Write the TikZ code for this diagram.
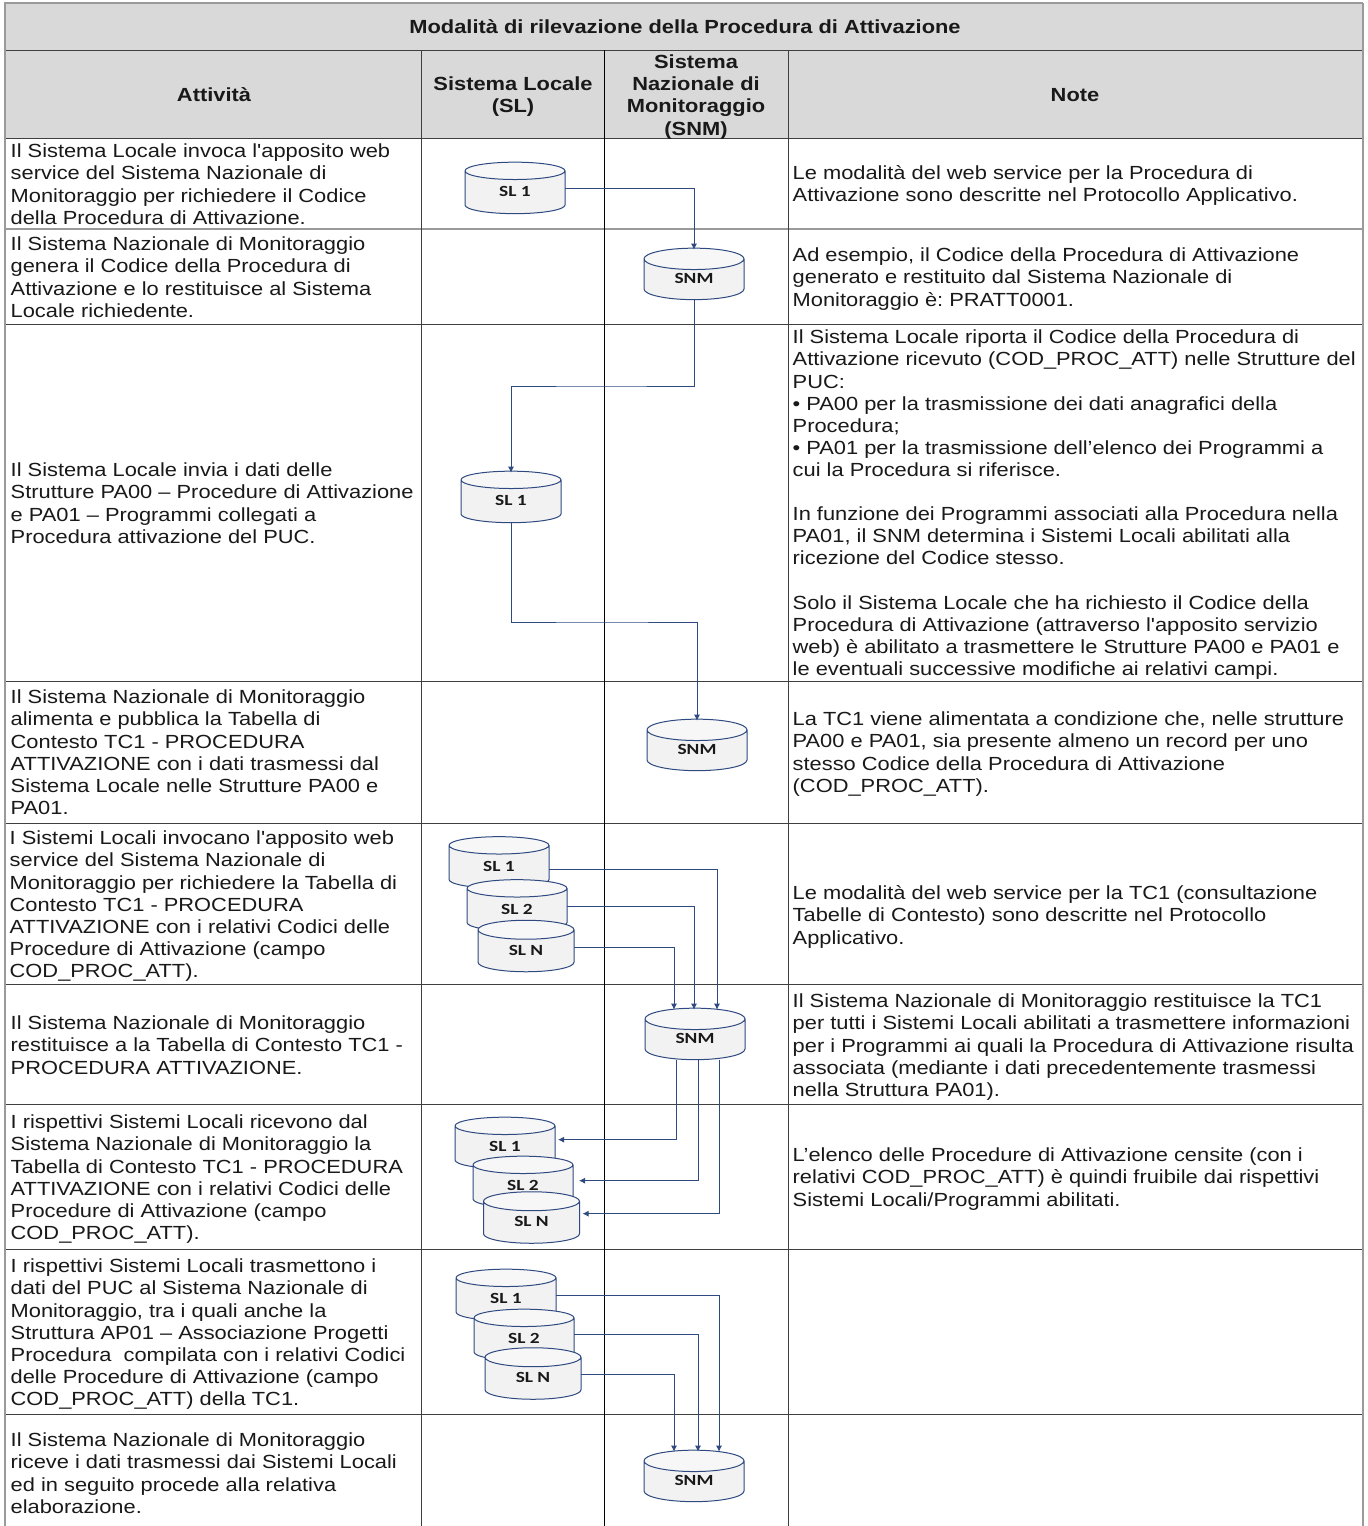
\documentclass[tikz,border=0pt]{standalone}
\usepackage{fontspec}
\usetikzlibrary{shapes.geometric,arrows.meta}
\newfontfamily\bodyf[FakeStretch=1.15]{Liberation Sans}
\newfontfamily\cylf[FakeStretch=1.25]{Carlito}
\definecolor{hdr}{HTML}{D9D9D9}
\definecolor{navy}{HTML}{2F4A80}
\definecolor{rule1}{HTML}{3F3F3F}
\definecolor{rule2}{HTML}{9A9A9A}
\tikzset{
  txt/.style={anchor=north west,inner sep=0pt,align=left,text=black!90,font=\frenchspacing\bodyf\fontsize{19}{22.1}\selectfont},
  head/.style={inner sep=0pt,align=center,text=black!90,font=\bodyf\bfseries\fontsize{19}{22.1}\selectfont},
  cyl/.style={cylinder,shape border rotate=90,aspect=0.55,draw=navy,line width=1pt,outer sep=0pt,
    cylinder uses custom fill,cylinder body fill=cylfill,cylinder end fill=cylend,
    minimum width=100pt,minimum height=51.5pt,inner sep=0pt,font=\cylf\bfseries\fontsize{15.5}{17}\selectfont,text=black!90},
  cyln/.style={cyl,minimum width=96pt},
  conn/.style={draw=navy,line width=.9pt,-{Latex[length=6pt,width=6pt]}},
  into/.style={conn,shorten >=-1.5pt},
  grid/.style={draw=rule1,line width=1pt},
  gridb/.style={draw=black,line width=1pt},
  outer/.style={draw=rule2,line width=2.6pt}
}
\definecolor{cylfill}{HTML}{F2F2F2}
\definecolor{cylend}{HTML}{F7F7F7}
\newcommand{\tx}[4]{\node[txt] (#1) at (#2-0.5,#3-8.8) {\strut #4};}
\newcommand{\cl}[1]{\raisebox{2pt}{#1}}
\begin{document}
\begin{tikzpicture}[x=1pt,y=-1pt]
\useasboundingbox (0,0) rectangle (1368,1526);
\fill[white] (0,0) rectangle (1368,1526);
\fill[hdr] (5,3) rectangle (1363,138);
% grid
\foreach \y in {50,138,324,681,823,984,1104,1249,1414} \draw[grid] (5,\y) -- (1363,\y);
\draw[draw=rule2,line width=1.6pt] (5,229) -- (1363,229);
\draw[grid] (421,50) -- (421,1526);
\draw[gridb] (604,50) -- (604,1526);
\draw[grid] (788,50) -- (788,1526);
\draw[outer] (5,1526) -- (5,3) -- (1363,3);
\draw[draw=rule2,line width=1.6pt] (1363,3) -- (1363,1526);
% headers
\node[head] (title) at (685,27) {Modalità di rilevazione della Procedura di Attivazione};
\node[head] (hatt) at (214,95) {Attività};
\node[head] (hsl) at (513,97) {Sistema Locale\\(SL)};
\node[head] (hsnm) at (696,97) {Sistema\\Nazionale di\\Monitoraggio\\(SNM)};
\node[head] (hnote) at (1075,95) {Note};
% left column
\tx{l1}{11}{151}{Il Sistema Locale invoca l'apposito web\\service del Sistema Nazionale di\\Monitoraggio per richiedere il Codice\\della Procedura di Attivazione.}
\tx{l2}{11}{244}{Il Sistema Nazionale di Monitoraggio\\genera il Codice della Procedura di\\Attivazione e lo restituisce al Sistema\\Locale richiedente.}
\tx{l3}{11}{470}{Il Sistema Locale invia i dati delle\\Strutture PA00 – Procedure di Attivazione\\e PA01 – Programmi collegati a\\Procedura attivazione del PUC.}
\tx{l4}{11}{697}{Il Sistema Nazionale di Monitoraggio\\alimenta e pubblica la Tabella di\\Contesto TC1 - PROCEDURA\\ATTIVAZIONE con i dati trasmessi dal\\Sistema Locale nelle Strutture PA00 e\\PA01.}
\tx{l5}{10}{838}{I Sistemi Locali invocano l'apposito web\\service del Sistema Nazionale di\\Monitoraggio per richiedere la Tabella di\\Contesto TC1 - PROCEDURA\\ATTIVAZIONE con i relativi Codici delle\\Procedure di Attivazione (campo\\COD\_PROC\_ATT).}
\tx{l6}{11}{1023}{Il Sistema Nazionale di Monitoraggio\\restituisce a la Tabella di Contesto TC1 -\\PROCEDURA ATTIVAZIONE.}
\tx{l7}{11}{1122}{I rispettivi Sistemi Locali ricevono dal\\Sistema Nazionale di Monitoraggio la\\Tabella di Contesto TC1 - PROCEDURA\\ATTIVAZIONE con i relativi Codici delle\\Procedure di Attivazione (campo\\COD\_PROC\_ATT).}
\tx{l8}{11}{1266}{I rispettivi Sistemi Locali trasmettono i\\dati del PUC al Sistema Nazionale di\\Monitoraggio, tra i quali anche la\\Struttura AP01 – Associazione Progetti\\Procedura~ compilata con i relativi Codici\\delle Procedure di Attivazione (campo\\COD\_PROC\_ATT) della TC1.}
\tx{l9}{11}{1440}{Il Sistema Nazionale di Monitoraggio\\riceve i dati trasmessi dai Sistemi Locali\\ed in seguito procede alla relativa\\elaborazione.}
% right column
\tx{r1}{793}{173}{Le modalità del web service per la Procedura di\\Attivazione sono descritte nel Protocollo Applicativo.}
\tx{r2}{793}{255}{Ad esempio, il Codice della Procedura di Attivazione\\generato e restituito dal Sistema Nazionale di\\Monitoraggio è: PRATT0001.}
\tx{r3}{793}{337}{Il Sistema Locale riporta il Codice della Procedura di\\Attivazione ricevuto (COD\_PROC\_ATT) nelle Strutture del\\PUC:\\• PA00 per la trasmissione dei dati anagrafici della\\Procedura;\\• PA01 per la trasmissione dell’elenco dei Programmi a\\cui la Procedura si riferisce.\\[22.1pt]In funzione dei Programmi associati alla Procedura nella\\PA01, il SNM determina i Sistemi Locali abilitati alla\\ricezione del Codice stesso.\\[22.1pt]Solo il Sistema Locale che ha richiesto il Codice della\\Procedura di Attivazione (attraverso l'apposito servizio\\web) è abilitato a trasmettere le Strutture PA00 e PA01 e\\le eventuali successive modifiche ai relativi campi.}
\tx{r4}{793}{719}{La TC1 viene alimentata a condizione che, nelle strutture\\PA00 e PA01, sia presente almeno un record per uno\\stesso Codice della Procedura di Attivazione\\(COD\_PROC\_ATT).}
\tx{r5}{793}{893}{Le modalità del web service per la TC1 (consultazione\\Tabelle di Contesto) sono descritte nel Protocollo\\Applicativo.}
\tx{r6}{793}{1001}{Il Sistema Nazionale di Monitoraggio restituisce la TC1\\per tutti i Sistemi Locali abilitati a trasmettere informazioni\\per i Programmi ai quali la Procedura di Attivazione risulta\\associata (mediante i dati precedentemente trasmessi\\nella Struttura PA01).}
\tx{r7}{793}{1155}{L’elenco delle Procedure di Attivazione censite (con i\\relativi COD\_PROC\_ATT) è quindi fruibile dai rispettivi\\Sistemi Locali/Programmi abilitati.}
% cylinders
\node[cyl] (a) at (515,192.5) {\cl{SL 1}};
\node[cyl] (b) at (694,279.5) {\cl{SNM}};
\node[cyl] (c) at (511,501.5) {\cl{SL 1}};
\node[cyl] (d) at (697,750.5) {\cl{SNM}};
\node[cyl] (e1) at (499,867) {\cl{SL 1}};
\node[cyl] (e2) at (517,910) {\cl{SL 2}};
\node[cyln] (e3) at (526,951) {\cl{SL N}};
\node[cyl] (f) at (695,1039.5) {\cl{SNM}};
\node[cyl] (g1) at (505,1147.5) {\cl{SL 1}};
\node[cyl] (g2) at (523,1186.5) {\cl{SL 2}};
\node[cyln] (g3) at (531.5,1222.5) {\cl{SL N}};
\node[cyl] (h1) at (506,1299.5) {\cl{SL 1}};
\node[cyl] (h2) at (524,1339.5) {\cl{SL 2}};
\node[cyln] (h3) at (533,1378.5) {\cl{SL N}};
\node[cyl] (k) at (694,1481.5) {\cl{SNM}};
% connectors
\draw[into] ([yshift=4.5pt]a.east) -| (b.north);
\draw[into] (b.south) |- (600,386) -| (c.north);
\draw[into] (c.south) |- (600,622) -| (d.north);
\draw[into] ([yshift=-2pt]e1.east) -| ([xshift=22pt]f.north);
\draw[into] ([yshift=4pt]e2.east) -| ([xshift=-1pt]f.north);
\draw[into] ([yshift=4pt]e3.east) -| ([xshift=-21pt]f.north);
\draw[conn,-] ([xshift=-19pt]f.south) -- ++(0,80) coordinate (p1);
\draw[conn] (p1) -- ([xshift=3pt]g1.east |- p1);
\draw[conn,-] ([xshift=3pt]f.south) -- ++(0,121) coordinate (p2);
\draw[conn] (p2) -- ([xshift=6pt]g2.east |- p2);
\draw[conn,-] ([xshift=24pt]f.south) -- ++(0,154) coordinate (p3);
\draw[conn] (p3) -- ([xshift=3pt]g3.east |- p3);
\draw[into] ([yshift=4.5pt]h1.east) -| ([xshift=25pt]k.north);
\draw[into] ([yshift=5.5pt]h2.east) -| ([xshift=4pt]k.north);
\draw[into] ([yshift=4.5pt]h3.east) -| ([xshift=-20pt]k.north);
\end{tikzpicture}
\end{document}
